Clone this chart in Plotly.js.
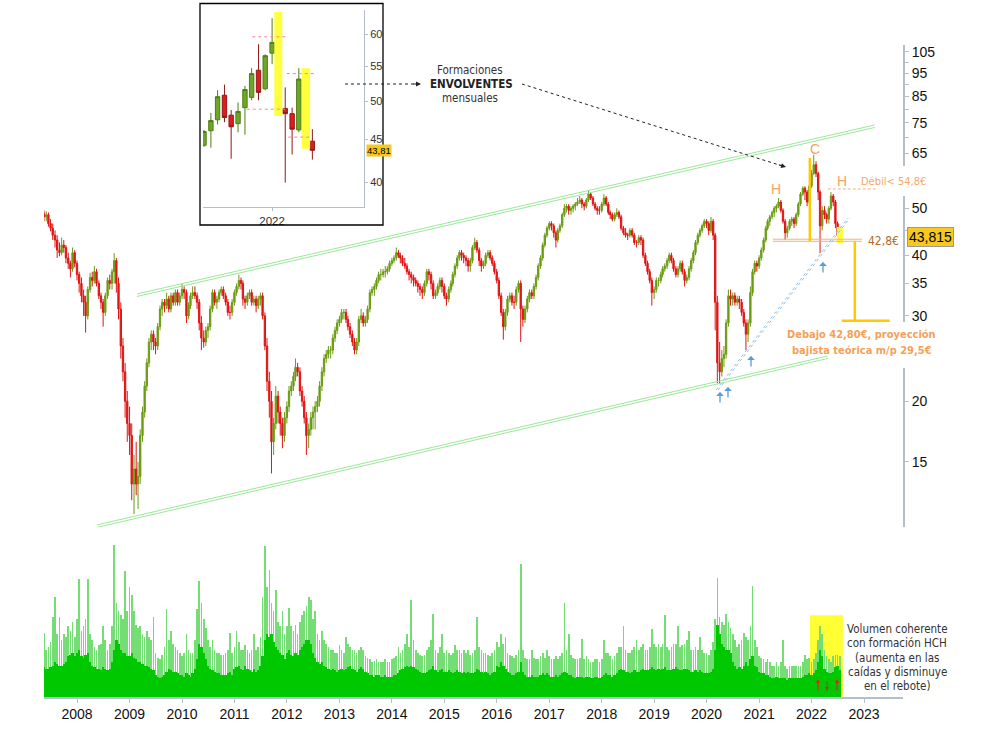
<!DOCTYPE html>
<html><head><meta charset="utf-8">
<script src="https://cdn.plot.ly/plotly-3.0.1.min.js"></script>
<style>html,body{margin:0;padding:0;background:#fff}#chart{width:995px;height:739px}</style>
</head><body><div id="chart"></div>
<script>
// ---------- main price series (semi-monthly candles, 16 May 2007 .. 16 Jul 2022) ----------
const priceOpen = [
48.8,48.0,48.5,46.5,45.5,44.0,43.0,41.0,40.5,42.0,41.5,39.5,38.5,37.5,40.5,
38.5,36.5,35.0,33.0,32.0,30.0,34.0,36.0,35.5,37.0,35.0,33.0,32.0,30.5,33.0,35.5,35.0,37.0,39.0,35.0,31.0,26.0,23.0,20.0,
18.0,17.0,13.5,14.5,13.5,14.0,17.0,19.0,21.5,24.0,26.5,27.5,26.5,26.0,28.5,31.0,32.0,31.5,32.5,31.0,33.0,32.0,33.5,32.0,
33.0,34.0,33.5,30.0,31.5,33.0,33.5,33.0,32.0,29.0,27.0,26.5,28.0,28.5,31.0,33.5,32.0,32.5,33.5,34.0,33.0,32.0,30.5,30.5,
32.0,33.5,34.5,35.5,35.0,32.5,32.0,33.0,33.5,32.0,32.5,31.5,32.5,33.0,30.0,26.0,22.0,20.0,16.5,18.0,20.5,19.0,18.0,17.0,
18.5,19.5,21.0,21.5,22.5,23.5,23.0,21.0,20.0,18.5,17.0,17.5,18.5,19.0,19.5,20.0,21.5,23.0,24.5,25.0,25.5,25.5,27.0,28.0,
29.0,29.5,30.5,30.5,29.5,28.5,27.5,26.5,25.5,26.5,29.5,30.0,29.0,29.5,31.0,33.5,34.0,34.5,35.5,36.5,36.5,37.0,37.0,37.5,
38.5,39.0,39.5,40.5,40.0,39.5,38.5,38.0,37.0,36.5,36.0,35.5,35.0,34.5,34.0,33.5,35.0,37.0,36.5,35.0,33.0,33.5,34.5,35.5,
34.5,33.0,32.5,34.0,35.0,36.5,38.0,39.5,40.5,40.0,39.5,39.0,38.0,39.0,41.5,42.5,41.0,39.0,38.0,38.5,40.0,40.5,39.5,38.5,
37.0,35.5,33.0,30.5,28.5,30.5,32.5,33.0,32.0,32.0,34.0,35.0,31.0,29.5,31.0,32.5,33.5,33.0,34.5,36.0,38.0,39.5,42.0,44.0,
45.5,46.5,46.0,44.5,43.0,45.0,46.0,48.5,50.0,50.5,49.5,50.0,50.5,51.0,51.5,52.0,51.0,50.5,52.0,53.5,52.5,51.0,50.0,49.5,
49.5,51.0,52.5,51.0,49.0,48.5,47.5,48.5,49.0,48.0,45.5,44.5,44.0,44.0,45.0,44.0,42.5,42.5,43.5,43.0,40.0,38.5,37.0,35.5,
33.5,34.0,35.5,35.5,36.5,37.5,38.0,39.0,40.0,39.0,37.5,36.5,37.5,38.5,37.0,35.5,36.0,37.5,39.0,40.5,42.5,44.0,45.0,46.0,
47.0,46.5,45.0,47.0,44.0,32.0,24.0,23.0,24.5,25.0,29.0,33.0,32.5,33.0,32.0,32.5,32.0,30.5,29.0,27.5,29.0,33.5,37.0,38.5,
38.0,39.5,41.0,43.0,45.5,47.0,48.0,49.0,50.0,50.5,51.5,49.5,47.0,44.5,45.5,47.0,47.5,46.5,48.5,51.0,53.5,55.0,54.0,51.5,
55.5,59.0,61.5,59.0,54.0,46.0,49.5,48.5,47.5,50.0,53.0,51.5,46.5,44.0];
const priceHigh = [
49.5,49.3,49.0,47.5,46.5,45.0,44.0,42.5,43.5,43.0,42.0,40.5,39.0,41.5,41.0,
39.0,37.0,36.0,34.0,33.0,34.5,36.8,37.0,38.0,37.5,35.5,33.5,32.5,33.5,36.0,36.5,37.5,40.4,39.5,36.0,32.0,27.0,24.0,21.0,
19.5,18.0,15.5,16.5,15.0,17.5,19.5,22.0,24.5,27.0,28.0,28.0,27.0,29.0,31.5,32.5,32.5,33.5,33.0,33.5,33.5,34.0,34.0,33.5,
35.0,34.5,34.0,32.0,33.5,34.5,34.5,33.5,32.5,30.0,28.0,28.5,29.0,31.5,34.0,34.0,33.0,34.0,34.5,34.5,33.5,32.5,31.5,32.5,
34.0,35.0,36.5,36.0,35.5,33.0,33.5,34.0,34.0,33.0,33.0,33.0,33.5,33.5,30.5,27.0,23.0,21.0,18.5,21.5,21.0,19.5,18.5,19.0,
20.0,21.5,22.0,23.0,24.5,24.0,23.5,21.5,20.5,19.0,18.0,19.0,19.5,20.0,20.5,22.0,23.5,25.0,25.5,26.0,26.0,27.5,28.5,29.5,
30.0,31.0,31.0,31.0,30.0,29.0,28.0,27.0,27.0,30.0,31.0,30.5,30.0,31.5,34.0,34.5,35.0,36.0,37.0,37.5,37.5,38.0,38.0,39.0,
39.5,40.0,41.5,41.0,40.5,40.0,39.5,38.5,37.5,37.0,36.5,36.0,35.5,35.0,34.5,35.5,37.5,37.5,37.0,35.5,34.0,35.0,36.0,36.0,
35.0,33.5,34.5,35.5,37.0,38.5,40.0,41.0,41.0,40.5,40.0,39.5,39.5,42.0,43.5,43.0,41.5,39.5,39.0,40.5,41.0,41.0,40.0,39.0,
37.5,36.0,33.5,31.0,31.0,33.0,33.5,33.5,33.0,34.5,35.5,35.5,31.5,31.5,33.0,34.0,34.0,35.0,36.5,38.5,40.0,42.5,44.5,46.0,
47.0,47.0,46.5,45.0,45.5,46.5,49.0,51.0,51.0,51.0,50.5,51.0,51.5,52.5,53.0,52.5,51.5,52.5,54.5,54.0,53.0,51.5,50.5,50.5,
51.5,53.5,53.0,51.5,49.5,49.0,49.0,50.0,49.5,48.5,46.0,45.5,44.5,45.5,45.5,44.5,43.0,44.0,44.0,43.5,40.5,39.0,37.5,36.0,
34.5,36.0,36.0,37.0,38.0,38.5,39.5,40.5,40.5,39.5,38.0,38.0,39.0,39.0,37.5,36.5,38.0,39.5,41.0,43.0,44.5,45.5,46.5,47.5,
47.5,47.0,48.0,47.5,44.5,33.0,26.5,25.5,26.0,29.5,34.0,34.0,33.5,33.5,33.0,33.0,32.5,31.0,29.5,29.5,34.5,37.5,39.0,39.0,
40.0,41.5,43.5,46.0,47.5,48.5,49.5,50.5,51.0,52.5,52.0,50.0,47.5,46.0,47.5,48.0,48.0,49.0,51.5,54.0,55.5,55.5,54.5,56.0,
60.0,64.5,62.5,59.5,54.5,50.5,50.5,49.0,50.5,54.0,53.5,52.0,47.0,45.0];
const priceLow = [
47.0,47.0,45.8,44.8,43.0,41.5,39.5,39.8,40.0,40.5,38.5,37.5,36.0,37.0,37.8,
35.5,33.5,32.0,30.0,27.7,29.5,33.5,34.5,35.0,34.5,32.5,31.0,28.5,30.0,32.5,34.0,34.0,35.0,33.5,29.5,24.5,22.0,18.5,16.5,
15.5,12.5,11.7,12.8,12.0,13.5,16.5,18.5,21.0,23.5,25.5,25.5,25.0,25.5,28.0,30.0,30.5,31.0,30.5,30.5,31.5,31.5,31.5,31.5,
32.5,32.5,29.0,29.5,31.0,32.5,32.5,31.0,28.0,25.5,25.8,26.0,27.0,28.0,30.5,31.5,31.0,32.0,33.0,32.5,31.5,30.0,29.5,30.0,
31.5,33.0,34.0,34.0,31.5,31.0,31.5,32.5,31.5,31.5,30.5,31.0,31.5,29.5,25.5,21.0,18.5,14.2,15.5,17.5,18.0,17.0,16.0,16.5,
18.0,19.0,20.5,21.0,22.0,22.5,20.5,19.5,18.0,15.5,16.0,17.0,17.5,17.5,19.0,19.5,21.0,22.5,24.0,24.5,24.5,25.0,26.5,27.5,
28.5,29.0,29.5,29.0,28.0,27.0,26.0,25.0,25.0,26.0,29.0,28.5,28.5,29.0,30.5,33.0,33.0,34.0,35.0,35.5,36.0,36.0,36.5,37.0,
38.0,38.5,39.0,39.5,38.5,38.0,37.5,36.5,35.5,35.0,34.5,34.5,33.5,33.0,32.5,33.0,34.5,35.5,34.0,32.5,32.5,33.0,34.0,33.5,
32.5,31.5,32.0,33.5,34.5,36.0,37.5,39.0,39.0,38.5,38.0,37.0,37.0,38.5,41.0,40.5,38.0,37.0,37.5,38.0,39.5,39.0,38.0,36.5,
35.0,32.5,30.0,26.8,28.0,30.0,32.0,31.5,31.0,31.5,33.5,26.5,28.5,29.0,30.5,32.0,32.5,32.5,34.0,35.5,37.5,39.0,41.5,43.5,
45.0,45.0,43.5,41.5,42.5,44.5,45.5,48.0,49.0,48.5,48.5,49.0,49.5,50.5,51.0,50.0,49.5,50.0,51.5,52.0,50.5,49.5,48.5,48.5,
49.0,50.5,50.5,48.5,47.5,47.0,47.0,48.0,47.5,45.0,44.0,43.5,43.0,43.5,43.5,42.0,41.5,42.0,42.0,39.5,38.0,36.5,35.0,31.5,
32.5,33.5,34.5,35.0,36.0,37.0,37.5,38.5,38.5,37.0,36.0,36.0,37.0,36.5,34.5,35.0,35.5,37.0,38.5,40.0,42.0,43.5,44.5,45.5,
45.5,44.0,44.5,43.0,28.0,21.8,21.8,22.5,23.5,24.5,28.5,31.5,31.5,31.5,31.5,31.0,30.0,28.5,25.5,26.5,28.5,33.0,36.5,37.0,
37.5,39.0,40.5,42.5,45.0,46.0,47.5,48.0,49.0,50.0,49.0,46.5,43.0,43.5,45.0,46.0,45.5,46.0,48.0,50.5,53.0,52.0,50.5,51.0,
55.0,58.5,58.0,52.0,40.4,45.0,47.5,46.5,46.5,49.5,50.5,45.5,43.0,42.5];
const priceClose = [
48.0,48.5,46.5,45.5,44.0,43.0,41.0,40.5,42.0,41.5,39.5,38.5,37.5,40.5,38.5,
36.5,35.0,33.0,32.0,30.0,34.0,36.0,35.5,37.0,35.0,33.0,32.0,30.5,33.0,35.5,35.0,37.0,39.0,35.0,31.0,26.0,23.0,20.0,18.0,
17.0,13.5,14.5,13.5,14.0,17.0,19.0,21.5,24.0,26.5,27.5,26.5,26.0,28.5,31.0,32.0,31.5,32.5,31.0,33.0,32.0,33.5,32.0,33.0,
34.0,33.5,30.0,31.5,33.0,33.5,33.0,32.0,29.0,27.0,26.5,28.0,28.5,31.0,33.5,32.0,32.5,33.5,34.0,33.0,32.0,30.5,30.5,32.0,
33.5,34.5,35.5,35.0,32.5,32.0,33.0,33.5,32.0,32.5,31.5,32.5,33.0,30.0,26.0,22.0,20.0,16.5,18.0,20.5,19.0,18.0,17.0,18.5,
19.5,21.0,21.5,22.5,23.5,23.0,21.0,20.0,18.5,17.0,17.5,18.5,19.0,19.5,20.0,21.5,23.0,24.5,25.0,25.5,25.5,27.0,28.0,29.0,
29.5,30.5,30.5,29.5,28.5,27.5,26.5,25.5,26.5,29.5,30.0,29.0,29.5,31.0,33.5,34.0,34.5,35.5,36.5,36.5,37.0,37.0,37.5,38.5,
39.0,39.5,40.5,40.0,39.5,38.5,38.0,37.0,36.5,36.0,35.5,35.0,34.5,34.0,33.5,35.0,37.0,36.5,35.0,33.0,33.5,34.5,35.5,34.5,
33.0,32.5,34.0,35.0,36.5,38.0,39.5,40.5,40.0,39.5,39.0,38.0,39.0,41.5,42.5,41.0,39.0,38.0,38.5,40.0,40.5,39.5,38.5,37.0,
35.5,33.0,30.5,28.5,30.5,32.5,33.0,32.0,32.0,34.0,35.0,31.0,29.5,31.0,32.5,33.5,33.0,34.5,36.0,38.0,39.5,42.0,44.0,45.5,
46.5,46.0,44.5,43.0,45.0,46.0,48.5,50.0,50.5,49.5,50.0,50.5,51.0,51.5,52.0,51.0,50.5,52.0,53.5,52.5,51.0,50.0,49.5,49.5,
51.0,52.5,51.0,49.0,48.5,47.5,48.5,49.0,48.0,45.5,44.5,44.0,44.0,45.0,44.0,42.5,42.5,43.5,43.0,40.0,38.5,37.0,35.5,33.5,
34.0,35.5,35.5,36.5,37.5,38.0,39.0,40.0,39.0,37.5,36.5,37.5,38.5,37.0,35.5,36.0,37.5,39.0,40.5,42.5,44.0,45.0,46.0,47.0,
46.5,45.0,47.0,44.0,32.0,24.0,23.0,24.5,25.0,29.0,33.0,32.5,33.0,32.0,32.5,32.0,30.5,29.0,27.5,29.0,33.5,37.0,38.5,38.0,
39.5,41.0,43.0,45.5,47.0,48.0,49.0,50.0,50.5,51.5,49.5,47.0,44.5,45.5,47.0,47.5,46.5,48.5,51.0,53.5,55.0,54.0,51.5,55.5,
59.0,61.5,59.0,54.0,46.0,49.5,48.5,47.5,50.0,53.0,51.5,46.5,44.0,43.8];
// volume: typical daily level and daily peak within each half-month
const volumeBase = [
19,18,18,19,20,22,21,20,20,21,22,26,27,28,26,
28,30,26,25,27,28,22,20,19,18,18,17,19,18,17,18,22,30,36,34,30,28,28,26,
26,28,25,24,22,22,21,20,20,19,18,17,14,13,12,13,14,16,18,17,16,16,15,14,
14,13,15,14,13,15,18,24,34,32,28,24,20,18,17,16,15,15,14,14,14,15,16,14,
18,19,20,18,17,20,18,17,16,18,16,17,20,26,36,40,38,40,35,32,30,28,27,24,
28,30,27,26,28,27,30,32,34,36,36,34,28,25,22,21,22,20,19,18,17,18,17,16,
17,18,17,18,19,20,18,17,16,18,19,18,16,15,14,14,13,14,14,13,13,14,13,13,
13,14,14,15,17,18,19,20,19,20,19,18,17,16,15,15,16,17,18,20,17,16,17,18,
16,16,17,16,15,16,17,16,15,16,15,16,15,15,16,18,17,16,15,16,15,14,15,16,
20,19,22,20,18,16,15,14,14,15,16,22,16,14,13,13,14,13,13,13,14,15,14,15,
14,13,13,14,13,14,15,16,15,14,14,13,12,13,13,13,12,13,13,12,12,13,13,12,
13,14,15,14,14,13,14,15,17,18,17,16,16,15,16,17,16,16,17,18,17,17,18,19,
18,17,18,17,18,19,17,17,17,18,19,18,17,17,18,18,17,16,16,17,16,17,16,15,
15,15,16,18,30,46,40,34,32,30,30,28,22,20,18,19,18,20,22,20,24,26,20,19,
16,15,15,14,14,13,12,12,13,12,12,12,12,11,12,12,12,12,12,12,13,14,14,15,
14,15,17,22,30,26,18,16,15,15,16,19,20,17];
const volumePeak = [
41,30,32,35,51,64,40,51,36,40,38,45,42,48,38,
50,75,42,45,50,75,40,36,32,30,33,34,45,36,30,34,45,97,60,55,52,50,80,55,
70,65,55,46,44,45,40,38,42,38,36,51,28,25,24,27,32,56,36,42,34,32,30,28,
26,28,40,30,28,28,36,56,74,60,50,44,36,32,36,30,28,28,27,27,28,30,41,28,
32,42,35,30,30,33,30,28,30,40,30,32,38,64,96,70,81,60,55,68,48,45,55,40,
45,57,45,42,46,40,48,52,55,58,64,62,50,55,40,36,42,36,34,32,30,30,28,28,
33,30,28,38,34,32,30,30,28,30,32,30,26,25,24,22,23,24,22,22,22,24,22,22,
24,25,26,32,28,30,34,40,32,62,36,30,28,27,26,27,30,32,36,53,30,28,32,40,
28,30,28,27,28,33,30,30,28,30,28,30,27,28,30,51,32,30,28,28,27,26,28,30,
35,32,40,34,38,28,27,26,25,27,30,85,30,25,24,24,30,25,24,24,26,28,25,30,
26,24,24,26,24,26,28,60,30,40,27,25,24,24,25,37,24,26,24,22,22,24,24,22,
24,36,28,28,26,24,26,28,32,32,45,30,28,28,30,32,36,30,32,34,30,30,32,43,
34,32,34,32,34,52,32,30,32,34,34,45,32,33,34,36,42,30,30,32,30,38,30,28,
28,27,30,35,50,76,51,48,46,53,48,44,40,36,32,34,36,41,38,36,45,71,36,32,
26,25,24,22,24,22,20,20,22,20,22,36,20,18,20,20,20,20,20,20,22,27,24,25,
22,24,28,36,45,40,30,26,24,22,26,27,27,26];
// ---------- inset: monthly candles Mar 2021 .. Jul 2022 ----------
const insetMonths = ['2021-03-01','2021-04-01','2021-05-01','2021-06-01','2021-07-01','2021-08-01','2021-09-01','2021-10-01','2021-11-01','2021-12-01','2022-01-01','2022-02-01','2022-03-01','2022-04-01','2022-05-01','2022-06-01','2022-07-01'];
const insetOpen  = [44.3,46.1,47.5,50.8,48.1,47.0,49.1,50.5,54.4,51.7,57.0,59.5,49.0,48.3,46.2,53.8,44.8];
const insetHigh  = [46.2,48.4,51.5,52.3,48.8,49.8,52.1,54.7,58.4,56.8,62.7,63.7,51.9,49.1,54.7,54.0,46.3];
const insetLow   = [44.1,44.0,46.9,47.2,42.7,45.9,45.6,50.1,50.1,51.5,55.3,48.1,40.0,43.2,45.9,44.1,42.6];
const insetClose = [46.0,47.4,50.6,47.8,46.6,48.6,51.6,53.9,51.2,56.6,58.7,48.9,48.3,46.3,53.1,45.3,43.7];
// ---------- tick labels ----------
const yearTicks = ['2008','2009','2010','2011','2012','2013','2014','2015','2016','2017','2018','2019','2020','2021','2022','2023'];
const priceTicks = [15,20,25,30,35,40,45,50,55,60,65,70,75,80,85,90,95,100,105];
const priceTickText = ['15','20','','30','35','40','','50','','','65','','75','','85','','95','','105'];
const insetTicks = [40,45,50,55,60];
// ---------- drawn technical lines (endpoints) ----------
const upperChannelX = ['2009-02-22','2023-03-17'], upperChannelY1 = [33.29,74.26], upperChannelY2 = [32.90,73.38];
const lowerChannelX = ['2008-05-19','2022-04-24'], lowerChannelY1 = [11.12,24.80], lowerChannelY2 = [10.99,24.51];
const supportX1 = ['2020-03-07','2022-09-10'], supportX2 = ['2020-03-21','2022-09-24'], supportY = [21.1,47.74];
const necklineX = ['2021-04-07','2022-12-17'], necklineLevel = 42.8;
const resistX = ['2022-04-24','2023-03-31'], resistLevel = 54.8;
const headX = '2021-12-20', headTop = 63.5;
const projX = '2022-10-29', projTarget = 29.3, projBaseX = ['2022-07-30','2023-06-29'];
const lastBoxX = ['2022-06-26','2022-08-07'], lastBoxY = [42.4,45.76];
const volBoxX = ['2021-12-20','2022-08-07'], volBoxTop = 52;
const insetBox1X = ['2022-01-11','2022-02-16'], insetBox1Y = [48.0,63.8];
const insetBox2X = ['2022-05-14','2022-06-21'], insetBox2Y = [43.9,54.7];
const insetLines = [
  {x:['2021-10-04','2022-03-15'], y:59.6},
  {x:['2021-09-09','2022-02-28'], y:48.9},
  {x:['2022-03-08','2022-07-09'], y:53.9},
  {x:['2022-03-15','2022-06-21'], y:45.3}];

// ---------- build ----------
function halfMonthDates(start, end){
  const out=[];
  for(let y=2007;y<=2022;y++) for(let m=1;m<=12;m++) for(const d of [1,16]){
    const s=y+'-'+String(m).padStart(2,'0')+'-'+String(d).padStart(2,'0');
    if(s>=start && s<=end) out.push(s);
  }
  return out;
}
const dates = halfMonthDates('2007-05-16','2022-07-16');
const n = Math.min(dates.length, priceOpen.length, priceHigh.length, priceLow.length, priceClose.length);
const nv = Math.min(dates.length, volumeBase.length, volumePeak.length);

const NARROW = 'Liberation Sans Narrow, DejaVu Sans Condensed, Arial Narrow, sans-serif';
const SANS = 'Liberation Sans, Arial, sans-serif';
const PX = p => (p-44)/859, PY = p => (697-p)/694;

function seg(x, y, color, width, dash, xa, ya){
  return {type:'scatter', mode:'lines', x:x, y:y, xaxis:xa||'x', yaxis:ya||'y', hoverinfo:'skip', showlegend:false,
          line:{color:color, width:width, dash:dash||'solid'}};
}
function box(x, y, color, xa, ya){
  return {type:'scatter', mode:'lines', x:[x[0],x[1],x[1],x[0],x[0]], y:[y[0],y[0],y[1],y[1],y[0]], fill:'toself',
          fillcolor:color, line:{width:0, color:color}, xaxis:xa||'x', yaxis:ya||'y', hoverinfo:'skip', showlegend:false};
}

const traces = [];
traces.push(box(lastBoxX, lastBoxY, '#ffff33'));
traces.push(seg(upperChannelX, upperChannelY1, '#9be89b', 1));
traces.push(seg(upperChannelX, upperChannelY2, '#9be89b', 1));
traces.push(seg(lowerChannelX, lowerChannelY1, '#9be89b', 1));
traces.push(seg(lowerChannelX, lowerChannelY2, '#9be89b', 1));
traces.push(seg(supportX1, supportY, '#8ec3ea', 1, 'dot'));
traces.push(seg(supportX2, supportY, '#8ec3ea', 1, 'dot'));
traces.push(seg(necklineX, [necklineLevel*0.9988, necklineLevel*0.9988], '#f5b07a', 1));
traces.push(seg(necklineX, [necklineLevel*1.0085, necklineLevel*1.0085], '#f5b07a', 1));
traces.push(seg(resistX, [resistLevel, resistLevel], '#f5b07a', 1, '3px,2px'));
traces.push({type:'candlestick', x:dates.slice(0,n), open:priceOpen.slice(0,n), high:priceHigh.slice(0,n),
  low:priceLow.slice(0,n), close:priceClose.slice(0,n), xaxis:'x', yaxis:'y', hoverinfo:'skip', showlegend:false,
  increasing:{line:{color:'#6b9b12', width:1}, fillcolor:'#6b9b12'},
  decreasing:{line:{color:'#e01414', width:1}, fillcolor:'#e01414'}});
traces.push(seg([headX, headX], [headTop, necklineLevel], '#ffc800', 2.5));
traces.push(seg([projX, projX], [necklineLevel, projTarget], '#ffc800', 2.5));
traces.push(seg(projBaseX, [projTarget, projTarget], '#ffc800', 2.5));
// volume
traces.push({type:'bar', x:dates.slice(0,nv), y:volumePeak.slice(0,nv), width:1.0e9, marker:{color:'#74de74', line:{width:0}},
  xaxis:'x', yaxis:'y2', hoverinfo:'skip', showlegend:false});
traces.push({type:'bar', x:dates.slice(0,nv), y:volumeBase.slice(0,nv), width:1.42e9, marker:{color:'#00c800', line:{width:0}},
  xaxis:'x', yaxis:'y2', hoverinfo:'skip', showlegend:false});
// inset
traces.push(box(insetBox1X, insetBox1Y, '#ffff40', 'x3', 'y3'));
traces.push(box(insetBox2X, insetBox2Y, '#ffff40', 'x3', 'y3'));
insetLines.forEach(l => traces.push(seg(l.x, [l.y, l.y], '#f08a8a', 1, 'dot', 'x3', 'y3')));
traces.push({type:'candlestick', x:insetMonths, open:insetOpen, high:insetHigh, low:insetLow, close:insetClose,
  xaxis:'x3', yaxis:'y3', hoverinfo:'skip', showlegend:false,
  increasing:{line:{color:'#4f7d14', width:1}, fillcolor:'#6fa628'},
  decreasing:{line:{color:'#8e1a1a', width:1}, fillcolor:'#e31b1b'}});

function txt(text, px, py, font, extra){
  return Object.assign({xref:'paper', yref:'paper', x:PX(px), y:PY(py), text:text, showarrow:false,
    xanchor:'center', yanchor:'middle', font:font}, extra||{});
}
function arrow(px, py, ax, ay, color, width, head, size){
  return {xref:'paper', yref:'paper', x:PX(px), y:PY(py), ax:ax, ay:ay, text:'', showarrow:true,
    arrowhead:head, arrowsize:size, arrowwidth:width, arrowcolor:color, standoff:0};
}
const gray = {family:NARROW, size:11.5, color:'#333'};
const orange = {family:SANS, size:14, color:'#f4a460'};
const annotations = [
  txt('Formaciones', 470, 70, gray),
  txt('<b>ENVOLVENTES</b>', 471, 84, {family:NARROW, size:11.5, color:'#222'}),
  txt('mensuales', 470, 98, gray),
  txt('H', 776, 189, orange), txt('C', 815, 149, orange), txt('H', 842, 181, orange),
  txt('Débil< 54,8€', 859, 182, {family:NARROW, size:11, color:'#f5a66a'}, {xanchor:'left'}),
  txt('42,8€', 866, 241, {family:NARROW, size:12, color:'#b3692b'}, {xanchor:'left'}),
  txt('43,815', 930.5, 237, {family:SANS, size:14, color:'#000'}, {bgcolor:'#f7c81e', bordercolor:'#9a9a9a', borderwidth:1, borderpad:1}),
  txt('<b>Debajo 42,80€, proyección</b>', 861, 335, {family:NARROW, size:11, color:'#f5a05a'}),
  txt('<b>bajista teórica m/p 29,5€</b>', 862, 350, {family:NARROW, size:11, color:'#f5a05a'}),
  txt('Volumen coherente', 897, 629, gray),
  txt('con formación HCH', 897, 643, gray),
  txt('(aumenta en las', 897, 658, gray),
  txt('caídas y disminuye', 897, 672, gray),
  txt('en el rebote)', 897, 686, gray),
  txt('43,81', 366, 150.5, {family:SANS, size:9.5, color:'#000'}, {xanchor:'left', bgcolor:'#f7c81e', borderpad:0}),
  arrow(421, 84, -9, 0, '#222', 1, 2, 1),
  arrow(786, 167, -8.6, -2.6, '#222', 1, 2, 1),
  arrow(720, 392, 0, 12, '#5b9bd5', 1.3, 1, 1),
  arrow(728, 387, 0, 12, '#5b9bd5', 1.3, 1, 1),
  arrow(751, 356, 0, 12, '#5b9bd5', 1.3, 1, 1),
  arrow(823, 262, 0, 12, '#5b9bd5', 1.3, 1, 1),
  arrow(818, 679, 0, 13, '#e02020', 1, 2, 0.8),
  arrow(827, 691, 0, -11, '#7a5230', 1, 2, 0.8),
  arrow(837, 679, 0, 13, '#e02020', 1, 2, 0.8)
];
const shapes = [
  {type:'rect', xref:'x', yref:'y2', x0:volBoxX[0], x1:volBoxX[1], y0:0, y1:volBoxTop, fillcolor:'#ffff33', line:{width:0}, layer:'below'},
  {type:'rect', xref:'paper', yref:'paper', x0:PX(200), x1:PX(383), y0:PY(225), y1:PY(3.5), line:{color:'#000', width:1.3}, fillcolor:'rgba(0,0,0,0)', layer:'above'},
  {type:'line', xref:'paper', yref:'paper', x0:PX(345), y0:PY(84), x1:PX(417), y1:PY(84), line:{color:'#222', width:1, dash:'dot'}},
  {type:'line', xref:'paper', yref:'paper', x0:PX(522), y0:PY(84), x1:PX(783), y1:PY(166.2), line:{color:'#222', width:1, dash:'dot'}},
  {type:'rect', xref:'paper', yref:'paper', x0:PX(898), x1:PX(910), y0:PY(196), y1:PY(166), fillcolor:'#fff', line:{width:0}, layer:'above'},
  {type:'rect', xref:'paper', yref:'paper', x0:PX(898), x1:PX(910), y0:PY(368), y1:PY(322), fillcolor:'#fff', line:{width:0}, layer:'above'}
];

const axisLine = '#b3c0cc';
const layout = {
  width:995, height:739, margin:{l:44, r:92, t:3, b:42}, paper_bgcolor:'#fff', plot_bgcolor:'rgba(0,0,0,0)',
  font:{family:SANS, size:14, color:'#111'}, showlegend:false, hovermode:false,
  barmode:'overlay', bargap:0, boxgap:0.3, boxgroupgap:0,
  xaxis:{type:'date', domain:[0,1], anchor:'y2', range:['2007-05-16 07:00','2023-09-29 12:00'],
    tickvals:yearTicks.map(y=>y+'-01-01'), ticktext:yearTicks, ticks:'outside', ticklen:4, tickcolor:axisLine,
    showline:true, linecolor:axisLine, linewidth:1.5, showgrid:false, zeroline:false,
    tickfont:{family:SANS, size:14, color:'#111'}, rangeslider:{visible:false}},
  yaxis:{type:'log', domain:[0.24496,0.93948], anchor:'x', side:'right', range:[1.0418,2.0356],
    tickvals:priceTicks, ticktext:priceTickText, ticks:'outside', ticklen:4, tickcolor:axisLine,
    showline:true, linecolor:axisLine, linewidth:2, showgrid:false, zeroline:false,
    tickfont:{family:SANS, size:14, color:'#111'}},
  yaxis2:{domain:[0,0.22622], anchor:'x', range:[0,100], visible:false, showgrid:false, zeroline:false},
  xaxis3:{type:'date', domain:[0.18510,0.37253], anchor:'y3', range:['2021-02-24 12:00','2023-02-18'],
    tickvals:['2022-01-01'], ticktext:['2022'], ticks:'outside', ticklen:3, tickcolor:axisLine,
    showline:true, linecolor:axisLine, linewidth:1, showgrid:false, zeroline:false,
    tickfont:{family:SANS, size:11.5, color:'#333'}, rangeslider:{visible:false}},
  yaxis3:{type:'log', domain:[0.70605,0.98991], anchor:'x3', side:'right', range:[1.5731,1.8071],
    tickvals:insetTicks, ticktext:insetTicks.map(String), ticks:'outside', ticklen:3, tickcolor:axisLine,
    showline:true, linecolor:axisLine, linewidth:1, showgrid:false, zeroline:false,
    tickfont:{family:SANS, size:11, color:'#333'}},
  shapes:shapes, annotations:annotations
};
Plotly.newPlot('chart', traces, layout, {staticPlot:true, displayModeBar:false});
</script></body></html>
